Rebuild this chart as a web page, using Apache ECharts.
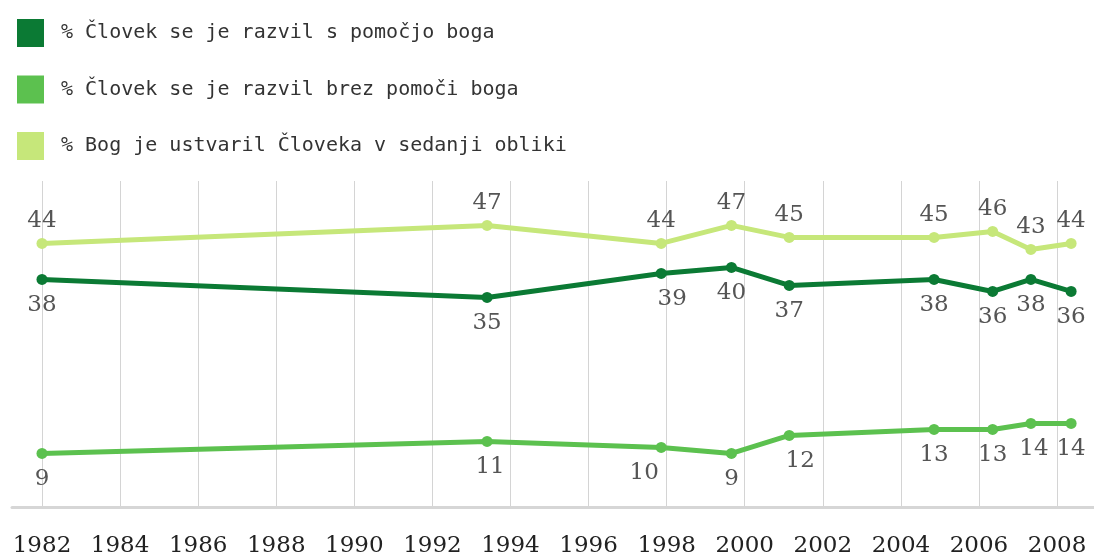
<!DOCTYPE html>
<html><head><meta charset="utf-8">
<script src="https://cdn.jsdelivr.net/npm/echarts@6/dist/echarts.min.js"></script>
<style>html,body{margin:0;padding:0;background:#fff}#c{width:1094px;height:560px}</style>
</head><body><div id="c"></div>
<script>
// ---- data ----
const surveyYears = [1982, 1993.4, 1997.86, 1999.66, 2001.14, 2004.85, 2006.35, 2007.33, 2008.36];
const seriesNames = [
  '% Človek se je razvil s pomočjo boga',
  '% Človek se je razvil brez pomoči boga',
  '% Bog je ustvaril Človeka v sedanji obliki'
];
const withGod    = [38, 35, 39, 40, 37, 38, 36, 38, 36];
const withoutGod = [9, 11, 10, 9, 12, 13, 13, 14, 14];
const godCreated = [44, 47, 44, 47, 45, 45, 46, 43, 44];
const tickLabels = [1982,1984,1986,1988,1990,1992,1994,1996,1998,2000,2002,2004,2006,2008];

// ---- styles ----
const colors = ['#0b7a34', '#5cc14f', '#c6e77a'];
const labelPos = ['bottom', 'bottom', 'top'];
const labelShiftX = [{2: 11}, {1: 3, 2: -17, 4: 11, 7: 3}, {}];

function build(values, si) {
  return values.map((v, i) => {
    const item = { value: [surveyYears[i], v] };
    const dx = labelShiftX[si][i];
    if (dx) item.label = { offset: [dx, 0] };
    return item;
  });
}

const allValues = [withGod, withoutGod, godCreated];
const series = allValues.map((vals, si) => ({
  type: 'line',
  name: seriesNames[si],
  xAxisIndex: 0, yAxisIndex: 0,
  data: build(vals, si),
  symbol: 'circle',
  symbolSize: 11,
  lineStyle: { width: 5, color: colors[si] },
  itemStyle: { color: colors[si] },
  label: {
    show: true,
    position: labelPos[si],
    distance: labelPos[si] === 'top' ? 5 : 9,
    fontFamily: 'DejaVu Serif',
    fontSize: 23,
    color: '#555',
    formatter: p => String(p.value[1])
  },
  emphasis: { disabled: true }
}));

const chart = echarts.init(document.getElementById('c'));
chart.setOption({
  animation: false,
  backgroundColor: '#fff',
  legend: {
    data: seriesNames,
    orient: 'vertical',
    left: 12, top: 14,
    itemWidth: 27, itemHeight: 28, itemGap: 28.5,
    icon: 'rect',
    textStyle: { fontFamily: 'DejaVu Sans Mono', fontSize: 20, color: '#333', padding: [6, 0, 0, 12] }
  },
  grid: [
    { left: 42, right: 1.8, top: 181, bottom: 52.5 },
    { left: 12, right: 0, top: 181, bottom: 52.5 }
  ],
  xAxis: [
    {
      type: 'value', gridIndex: 0, min: 1982, max: 2008.9, interval: 2,
      axisLine: { show: false }, axisTick: { show: false },
      axisLabel: {
        margin: 27, fontFamily: 'DejaVu Serif', fontSize: 23, color: '#222',
        showMaxLabel: false,
        formatter: v => tickLabels.includes(v) ? String(v) : ''
      },
      splitLine: { show: true, showMaxLine: false, lineStyle: { color: '#d4d4d4', width: 1 } }
    },
    {
      type: 'value', gridIndex: 1, min: 0, max: 1,
      axisLine: { show: true, lineStyle: { color: '#d6d6d6', width: 3 } },
      axisTick: { show: false }, axisLabel: { show: false }, splitLine: { show: false }
    }
  ],
  yAxis: [
    { type: 'value', gridIndex: 0, min: 0, max: 54.4, show: false },
    { type: 'value', gridIndex: 1, min: 0, max: 1, show: false }
  ],
  series: series
});
</script>
</body></html>
